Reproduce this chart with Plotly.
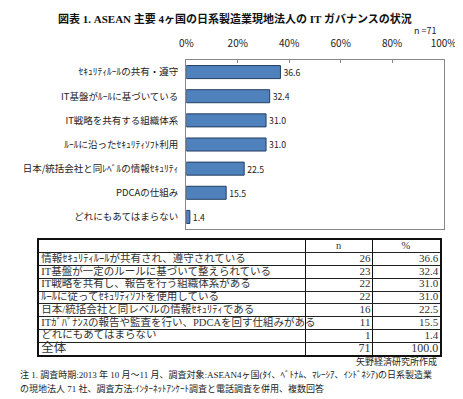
import plotly.graph_objects as go

# ---- data ----
categories = ["ｾｷｭﾘﾃｨﾙｰﾙの共有・遵守", "IT基盤がﾙｰﾙに基づいている", "IT戦略を共有する組織体系",
              "ﾙｰﾙに沿ったｾｷｭﾘﾃｨｿﾌﾄ利用", "日本/統括会社と同ﾚﾍﾞﾙの情報ｾｷｭﾘﾃｨ", "PDCAの仕組み",
              "どれにもあてはまらない"]
values = [36.6, 32.4, 31.0, 31.0, 22.5, 15.5, 1.4]

table_header = ["", "n", "%"]
table_items = ["情報ｾｷｭﾘﾃｨﾙｰﾙが共有され、遵守されている", "IT基盤が一定のルールに基づいて整えられている",
               "IT戦略を共有し、報告を行う組織体系がある", "ﾙｰﾙに従ってｾｷｭﾘﾃｨｿﾌﾄを使用している",
               "日本/統括会社と同レベルの情報ｾｷｭﾘﾃｨである", "ITｶﾞﾊﾞﾅﾝｽの報告や監査を行い、PDCAを回す仕組みがある",
               "どれにもあてはまらない", "全体"]
table_n = [26, 23, 22, 22, 16, 11, 1, 71]
table_pct = [36.6, 32.4, 31.0, 31.0, 22.5, 15.5, 1.4, 100.0]

title = "図表 1. ASEAN 主要 4ヶ国の日系製造業現地法人の IT ガバナンスの状況"
note1 = "注 1. 調査時期:2013 年 10 月～11 月、調査対象:ASEAN4ヶ国(ﾀｲ、ﾍﾞﾄﾅﾑ、ﾏﾚｰｼｱ、ｲﾝﾄﾞﾈｼｱ)の日系製造業"
note2 = "の現地法人 71 社、調査方法:ｲﾝﾀｰﾈｯﾄｱﾝｹｰﾄ調査と電話調査を併用、複数回答"
source = "矢野経済研究所作成"

W, H = 463, 399
GOTHIC = "Noto Sans CJK JP"
SERIF = "Liberation Serif, Noto Sans CJK JP"

# table column boundaries (fraction of table width)
COL_EDGES = [0.0, 0.664, 0.831, 1.0]

fig = go.Figure()
fig.add_trace(go.Bar(
    x=values, y=categories, orientation="h",
    marker=dict(color="#4F81BD", line=dict(color="#243F60", width=1)),
    text=[f"{v:.1f}" for v in values], textposition="outside",
    textfont=dict(size=10, color="#222", family=GOTHIC),
    cliponaxis=False, width=0.54,
))

# ---- table drawn on its own axes ----
rows = list(range(1, len(table_items) + 1))
body_size = [10.5] * (len(table_items) - 1) + [12.5]
num_size = [11] * (len(table_items) - 1) + [12]
fig.add_trace(go.Scatter(
    x=[COL_EDGES[0] + 0.006] * len(rows), y=rows, mode="text", text=table_items,
    textposition="middle right", textfont=dict(family=SERIF, size=body_size, color="#333"),
    xaxis="x2", yaxis="y2", hoverinfo="skip", cliponaxis=False))
fig.add_trace(go.Scatter(
    x=[COL_EDGES[2] - 0.004] * len(rows), y=rows, mode="text", text=[str(v) for v in table_n],
    textposition="middle left", textfont=dict(family=SERIF, size=num_size, color="#333"),
    xaxis="x2", yaxis="y2", hoverinfo="skip", cliponaxis=False))
fig.add_trace(go.Scatter(
    x=[COL_EDGES[3] - 0.004] * len(rows), y=rows, mode="text", text=[f"{v:.1f}" for v in table_pct],
    textposition="middle left", textfont=dict(family=SERIF, size=num_size, color="#333"),
    xaxis="x2", yaxis="y2", hoverinfo="skip", cliponaxis=False))
fig.add_trace(go.Scatter(
    x=[(COL_EDGES[i] + COL_EDGES[i + 1]) / 2 for i in range(3)], y=[0, 0, 0], mode="text",
    text=table_header, textposition="middle center",
    textfont=dict(family=SERIF, size=10.5, color="#333"),
    xaxis="x2", yaxis="y2", hoverinfo="skip", cliponaxis=False))

nrows = len(table_items) + 1
fig.update_layout(
    width=W, height=H, margin=dict(l=0, r=0, t=0, b=0),
    paper_bgcolor="white", plot_bgcolor="white", showlegend=False,
    xaxis=dict(domain=[179 / W, 448 / W], range=[0, 100], dtick=20, ticksuffix="%",
               side="top", showgrid=False, zeroline=False, showline=True, mirror=True,
               linecolor="#888", linewidth=1, ticks="inside", ticklen=3, tickcolor="#888",
               ticklabelstandoff=8,
               tickfont=dict(family=GOTHIC, size=10, color="#222"), fixedrange=True),
    yaxis=dict(domain=[1 - 221 / H, 1 - 52 / H], autorange="reversed", showgrid=False,
               showline=True, mirror=True, linecolor="#888", linewidth=1, ticks="",
               ticklabelstandoff=5,
               tickfont=dict(family=GOTHIC, size=9.5, color="#222"), fixedrange=True),
    xaxis2=dict(domain=[25 / W, 444 / W], anchor="y2", range=[0, 1],
                tickvals=COL_EDGES[1:3], showticklabels=False, ticks="",
                showgrid=True, gridcolor="#111", gridwidth=1, zeroline=False,
                showline=True, mirror=True, linecolor="#111", linewidth=1.5, fixedrange=True),
    yaxis2=dict(domain=[1 - 347 / H, 1 - 232 / H], anchor="x2", range=[nrows - 0.5, -0.5],
                tickvals=[r + 0.5 for r in range(nrows - 1)], showticklabels=False, ticks="",
                showgrid=True, gridcolor="#222", gridwidth=1, zeroline=False,
                showline=True, mirror=True, linecolor="#111", linewidth=1.5, fixedrange=True),
    bargap=0.46,
    annotations=[
        dict(text=f"<b>{title}</b>", x=230 / W, y=1 - 10 / H, xref="paper", yref="paper",
             yanchor="middle", showarrow=False, font=dict(family=SERIF, size=11, color="#111")),
        dict(text="n =71", x=443 / W, y=1 - 22 / H, xref="paper", yref="paper", xanchor="right",
             yanchor="middle", showarrow=False, font=dict(family=GOTHIC, size=9, color="#222")),
        dict(text=source, x=443 / W, y=1 - 353 / H, xref="paper", yref="paper",
             xanchor="right", yanchor="middle", showarrow=False,
             font=dict(family=SERIF, size=9, color="#222")),
        dict(text=note1, x=3 / W, y=1 - 366 / H, xref="paper", yref="paper", xanchor="left",
             yanchor="middle", showarrow=False, font=dict(family=SERIF, size=9, color="#222")),
        dict(text=note2, x=3 / W, y=1 - 380 / H, xref="paper", yref="paper", xanchor="left",
             yanchor="middle", showarrow=False, font=dict(family=SERIF, size=9, color="#222")),
    ],
)

fig.write_html("out.html")
